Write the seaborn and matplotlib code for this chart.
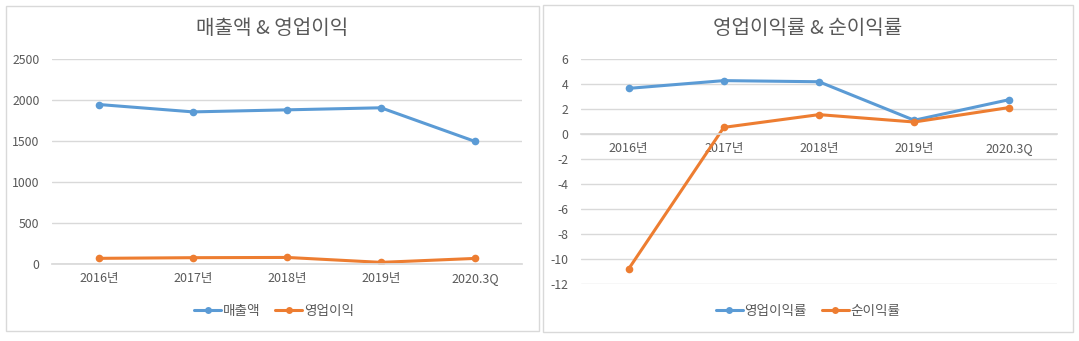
import matplotlib
matplotlib.use("Agg")
import matplotlib.pyplot as plt
from matplotlib.patches import Rectangle
from matplotlib.lines import Line2D
import seaborn as sns
import pandas as pd

sns.set_theme(style="white")
plt.rcParams['font.family'] = ['Noto Sans CJK KR', 'DejaVu Sans']

periods = ["2016년", "2017년", "2018년", "2019년", "2020.3Q"]
sales = [1945, 1855, 1880, 1905, 1495]
op_profit = [69, 77, 80, 20, 68]
op_margin = [3.65, 4.27, 4.18, 1.1, 2.75]
net_margin = [-10.8, 0.53, 1.55, 0.96, 2.12]

left_title = "매출액 & 영업이익"
right_title = "영업이익률 & 순이익률"
left_series = ["매출액", "영업이익"]
right_series = ["영업이익률", "순이익률"]
left_yticks = [0, 500, 1000, 1500, 2000, 2500]
right_yticks = [-12, -10, -8, -6, -4, -2, 0, 2, 4, 6]

BLUE = "#5b9bd5"
ORANGE = "#ed7d31"
TXT = "#595959"
GRID = "#d9d9d9"

W, H = 1079, 341
fig = plt.figure(figsize=(W / 100, H / 100), dpi=100)
fig.patch.set_facecolor("white")


def fx(px):
    return px / W


def fy(py):
    return 1 - py / H


# panel borders
fig.patches.append(Rectangle((fx(6), fy(331)), fx(533), (331 - 6) / H,
                             transform=fig.transFigure, fill=False,
                             edgecolor=GRID, linewidth=1))
fig.patches.append(Rectangle((fx(543), fy(332)), fx(530), (332 - 5) / H,
                             transform=fig.transFigure, fill=False,
                             edgecolor=GRID, linewidth=1))


def make_panel(rect, s1, s2, names, yticks, title, title_x, legend_x):
    ax = fig.add_axes(rect)
    df = pd.DataFrame({
        "period": periods * 2,
        "value": list(s1) + list(s2),
        "series": [names[0]] * len(periods) + [names[1]] * len(periods),
    })
    sns.lineplot(data=df, x="period", y="value", hue="series",
                 palette=[BLUE, ORANGE], marker="o", markersize=5.5,
                 markeredgewidth=0, linewidth=2.2, sort=False, ax=ax,
                 legend=False)
    ax.set_xlim(-0.5, len(periods) - 0.5)
    ax.set_ylim(yticks[0], yticks[-1])
    ax.set_yticks(yticks)
    ax.set_yticklabels([str(t) for t in yticks])
    ax.yaxis.grid(True, color=GRID, linewidth=1)
    ax.xaxis.grid(False)
    ax.set_axisbelow(True)
    for s in ["top", "right", "left"]:
        ax.spines[s].set_visible(False)
    ax.spines["bottom"].set_position(("data", 0))
    ax.spines["bottom"].set_color(GRID)
    ax.set_xlabel("")
    ax.set_ylabel("")
    ax.tick_params(axis="y", length=0, pad=9, labelsize=8.8, labelcolor=TXT)
    ax.tick_params(axis="x", length=0, pad=6, labelsize=9, labelcolor=TXT)
    ax.set_facecolor("none")
    fig.text(title_x, fy(28), title, ha="center", va="center",
             fontsize=14.5, color=TXT)
    handles = [Line2D([], [], color=BLUE, lw=2.2, marker="o", markersize=5,
                      markeredgewidth=0),
               Line2D([], [], color=ORANGE, lw=2.2, marker="o", markersize=5,
                      markeredgewidth=0)]
    fig.legend(handles, names, loc="center", bbox_to_anchor=(legend_x, fy(311)),
               ncol=2, frameon=False, fontsize=9.8, labelcolor=TXT,
               handlelength=2.0, handletextpad=0.1, columnspacing=1.1)
    return ax


axL = make_panel([fx(52), fy(264), fx(470), (264 - 59) / H], sales, op_profit,
                 left_series, left_yticks, left_title, fx(272), fx(274))
axR = make_panel([fx(581), fy(284), fx(476), (284 - 59) / H], op_margin,
                 net_margin, right_series, right_yticks, right_title,
                 fx(808), fx(808))

fig.savefig("out.png", dpi=100, facecolor="white")
